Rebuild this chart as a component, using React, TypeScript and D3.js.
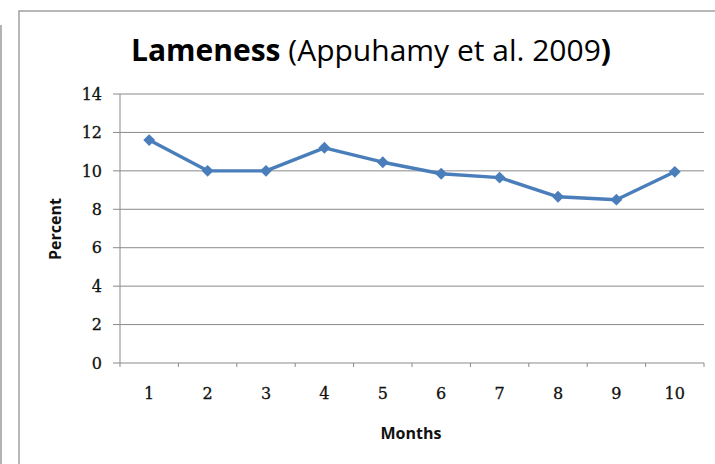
import React from "react";
import * as d3 from "d3";

const months = ["1", "2", "3", "4", "5", "6", "7", "8", "9", "10"];
const lameness = [11.6, 10.0, 10.0, 11.2, 10.45, 9.85, 9.65, 8.65, 8.5, 9.95];
const yTicks = [0, 2, 4, 6, 8, 10, 12, 14];

const W = 715;
const H = 464;
const left = 120;
const right = 704;
const top = 94;
const bottom = 363;
const gridColor = "#8a8a8a";
const lineColor = "#4a7ebb";

export default function App() {
  const x = d3.scaleBand<string>().domain(months).range([left, right]).padding(0);
  const y = d3.scaleLinear().domain([0, 14]).range([bottom, top]);
  const cx = (m: string) => (x(m) as number) + x.bandwidth() / 2;
  const line = d3
    .line<number>()
    .x((_, i) => cx(months[i]))
    .y((d) => y(d));
  const diamond = d3.symbol().type(d3.symbolDiamond2).size(90)();
  const bounds = [...months.map((m) => x(m) as number), right];

  const tickFont = {
    fontFamily: "'DejaVu Serif', serif",
    fontSize: 16,
    fill: "#111",
    stroke: "#111",
    strokeWidth: 0.3,
  };

  return (
    <svg
      width={W}
      height={H}
      style={{ position: "absolute", left: 0, top: 0, background: "#fff" }}
    >
      <rect x={0} y={0} width={W} height={H} fill="#fff" />
      <line x1={1} y1={25} x2={1} y2={H} stroke="#9a9a9a" strokeWidth={1.5} />
      <rect x={19} y={11} width={W} height={H} fill="#fff" stroke="#a0a0a0" strokeWidth={1.5} />

      <text
        x={371}
        y={61}
        textAnchor="middle"
        fontFamily="'Open Sans', sans-serif"
        fontSize={30}
        fill="#000"
      >
        <tspan fontWeight="bold">Lameness</tspan>
        <tspan> (Appuhamy et al. 2009</tspan>
        <tspan fontWeight="bold">)</tspan>
      </text>

      {yTicks.map((t) => (
        <g key={t}>
          <line
            x1={left - 7}
            x2={right}
            y1={y(t)}
            y2={y(t)}
            stroke={gridColor}
            strokeWidth={1}
          />
          <text x={left - 18} y={y(t)} dy="0.36em" textAnchor="end" {...tickFont}>
            {t}
          </text>
        </g>
      ))}
      <line x1={left} x2={left} y1={top} y2={bottom} stroke={gridColor} strokeWidth={1} />
      {bounds.map((b, i) => (
        <line key={i} x1={b} x2={b} y1={bottom} y2={bottom + 4} stroke={gridColor} strokeWidth={1} />
      ))}
      {months.map((m) => (
        <text key={m} x={cx(m)} y={399} textAnchor="middle" {...tickFont}>
          {m}
        </text>
      ))}

      <text
        x={411}
        y={439}
        textAnchor="middle"
        fontFamily="'Open Sans', sans-serif"
        fontWeight="bold"
        fontSize={16}
        fill="#111"
      >
        Months
      </text>
      <text
        transform={`translate(61, 229) rotate(-90)`}
        textAnchor="middle"
        fontFamily="'Open Sans', sans-serif"
        fontWeight="bold"
        fontSize={16}
        fill="#111"
      >
        Percent
      </text>

      <path d={line(lameness) || ""} fill="none" stroke={lineColor} strokeWidth={3.4} strokeLinejoin="round" />
      {lameness.map((v, i) => (
        <path
          key={i}
          d={diamond || ""}
          transform={`translate(${cx(months[i])}, ${y(v)})`}
          fill={lineColor}
        />
      ))}
    </svg>
  );
}
